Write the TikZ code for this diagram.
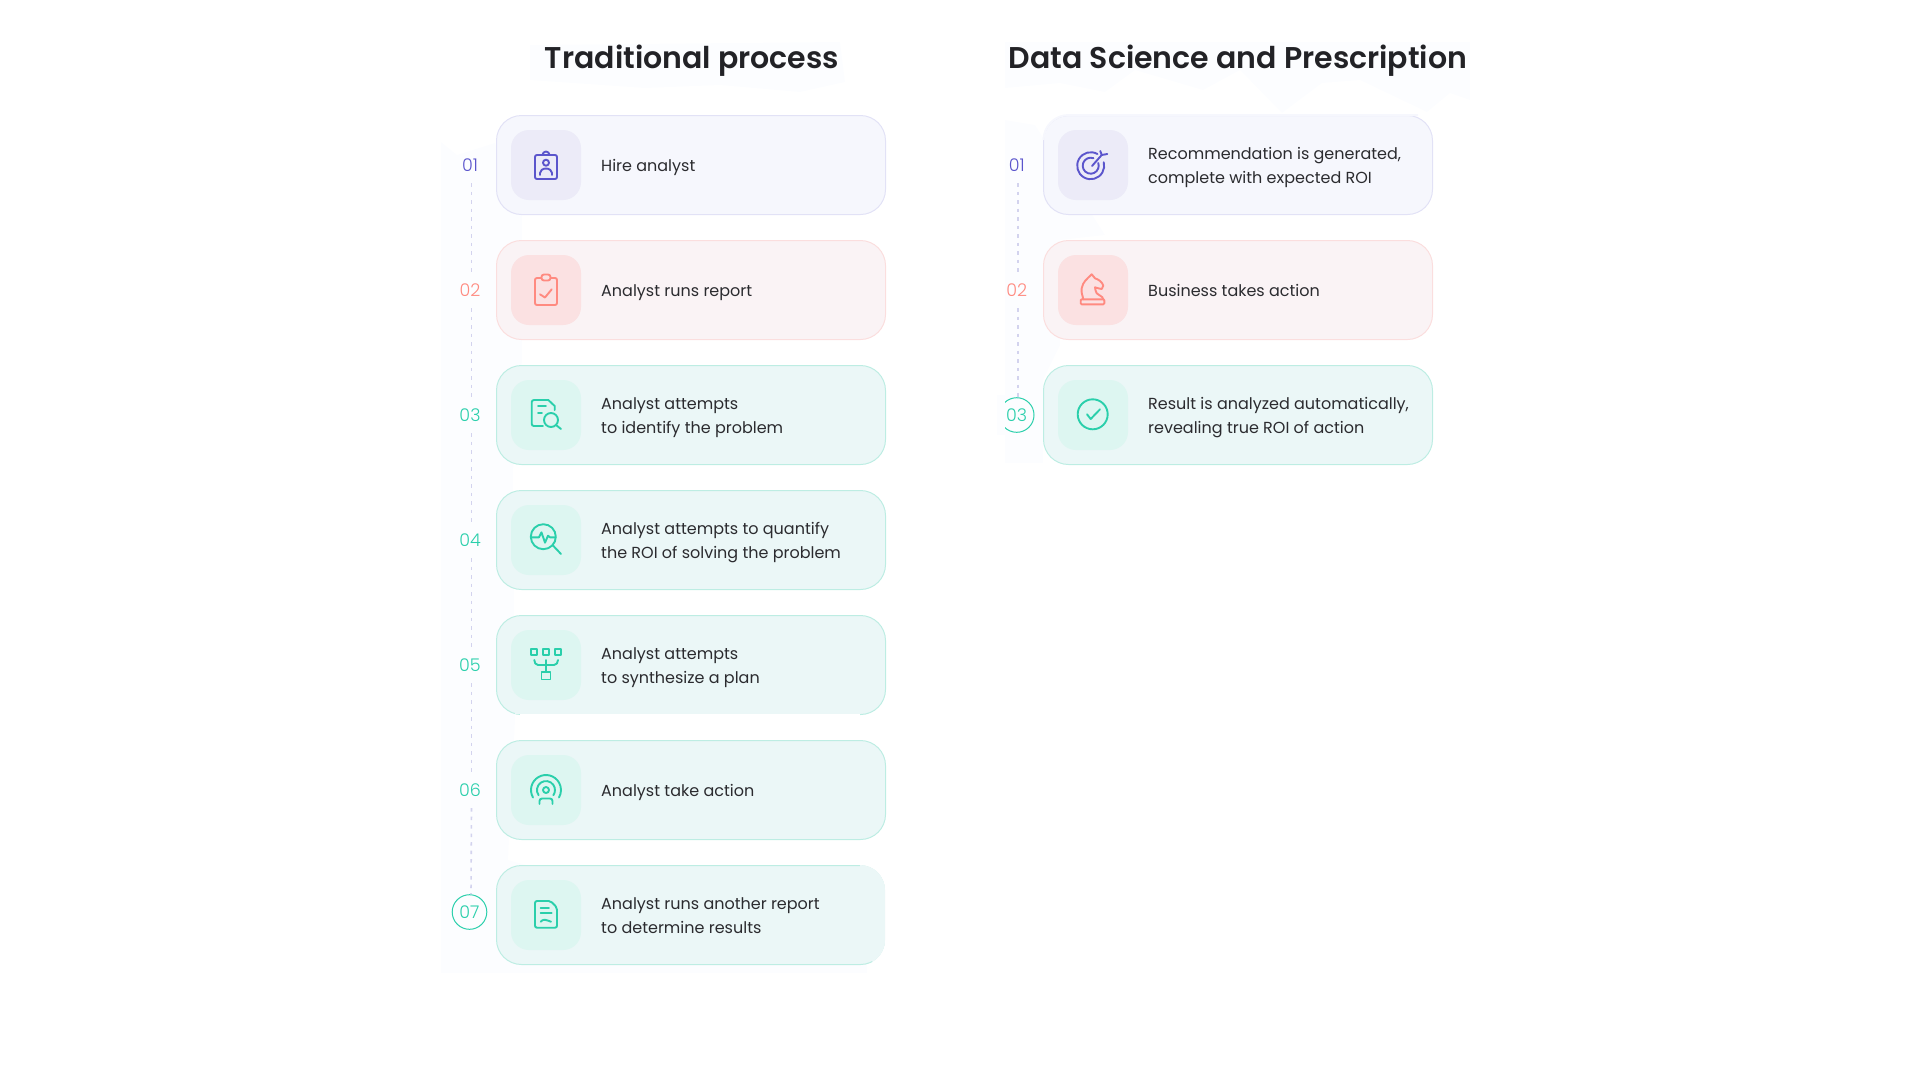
\documentclass[tikz,border=0pt]{standalone}
\usepackage{fontspec}
\setmainfont{Poppins}[BoldFont={Poppins SemiBold}]
\newfontfamily\numfont{Poppins Light}

\definecolor{inkdark}{HTML}{2B2B2F}
\definecolor{inktitle}{HTML}{222226}
\definecolor{palebg}{HTML}{FCFDFF}
\definecolor{dotline}{HTML}{D3D3EE}
\definecolor{violet}{HTML}{5B55CC}
\definecolor{violetcard}{HTML}{F6F7FD}
\definecolor{violetedge}{HTML}{E2E2F6}
\definecolor{violetbox}{HTML}{ECEBF8}
\definecolor{salmon}{HTML}{FF8A80}
\definecolor{salmoncard}{HTML}{FAF3F5}
\definecolor{salmonedge}{HTML}{FBDEDE}
\definecolor{salmonbox}{HTML}{FBE1E2}
\definecolor{mint}{HTML}{2ACFAB}
\definecolor{mintcard}{HTML}{EBF7F7}
\definecolor{mintedge}{HTML}{BDEDE3}
\definecolor{mintbox}{HTML}{DDF6F1}

\tikzset{
  cardbox/.style={draw, rectangle, rounded corners=25pt, line width=1pt, minimum width=389pt, minimum height=99pt, inner sep=0pt},
  iconbox/.style={rectangle, rounded corners=18pt, minimum size=70pt, inner sep=0pt},
  cardtext/.style={anchor=west, align=left, inner sep=0pt, yshift=-1.5pt, text=inkdark, font=\fontsize{16}{24}\selectfont, execute at begin node=\strut, execute at end node=\strut},
  pairtext/.style={cardtext, yshift=-2.4pt},
  headtext/.style={inner sep=0pt, text=inktitle, font=\fontsize{30}{36}\selectfont\bfseries},
  numtext/.style={minimum size=36pt, inner sep=0pt, font=\numfont\fontsize{17.5}{20}\selectfont},
  numring/.style={numtext, draw=mint, circle, minimum size=34.6pt, line width=1pt},
  dotlink/.style={dotline, line width=1.6pt, dash pattern=on 3.5pt off 5pt},
  glyph/.style={line width=1.9pt, line cap=round, line join=round},
  patchline/.style={line width=2pt},
}

\begin{document}
\begin{tikzpicture}[x=1pt, y=1pt]
  \useasboundingbox (0,0) rectangle (1920,-1080);

  % Faint panels behind everything
  \fill[palebg] (441,-142) -- (457,-155) -- (495,-143) -- (522,-215) -- (522,-360) -- (513,-470) -- (515,-720) -- (508,-860) -- (867,-960) -- (867,-973) -- (441,-973) -- cycle;
  \fill[palebg] (530,-45) -- (840,-42) -- (845,-82) -- (800,-92) -- (720,-85) -- (645,-88) -- (530,-80) -- cycle;
  \fill[palebg] (1005,-42) -- (1470,-42) -- (1470,-100) -- (1450,-93) -- (1427,-112) -- (1360,-80) -- (1322,-83) -- (1282,-113) -- (1240,-70) -- (1203,-90) -- (1135,-70) -- (1105,-92) -- (1060,-83) -- (1005,-88) -- cycle;
  \fill[palebg] (1005,-120) -- (1035,-125) -- (1105,-235) -- (1060,-240) -- (1060,-345) -- (1043,-380) -- (1043,-463) -- (1005,-463) -- cycle;

  % Titles
  \node[headtext] (headA) at (692,-60.7) {Traditional process};
  \node[headtext] (headB) at (1238,-60.7) {Data Science and Prescription};

  % Left column, cards
  \node[cardbox, draw=violetedge, fill=violetcard] (a1) at (691,-165) {};
  \node[cardbox, draw=salmonedge, fill=salmoncard] (a2) at (691,-290) {};
  \node[cardbox, draw=mintedge, fill=mintcard] (a3) at (691,-415) {};
  \node[cardbox, draw=mintedge, fill=mintcard] (a4) at (691,-540) {};
  \node[cardbox, draw=mintedge, fill=mintcard] (a5) at (691,-665) {};
  \node[cardbox, draw=mintedge, fill=mintcard] (a6) at (691,-790) {};
  \node[cardbox, draw=mintedge, fill=mintcard] (a7) at (691,-915) {};

  % Left column, worn edges
  \draw[patchline, white] (520,-715) -- (860,-715);
  \draw[patchline, mintcard] (515,-713) -- (860,-713);
  \draw[patchline, white] (860,-864) arc[start angle=90, end angle=0, radius=26] -- (886,-940) arc[start angle=0, end angle=-60, radius=26];
  \draw[patchline, mintcard] (860,-866) arc[start angle=90, end angle=0, radius=24] -- (884,-940) arc[start angle=0, end angle=-60, radius=24];

  \node[iconbox, fill=violetbox] (ai1) at (546,-165) {};
  \node[iconbox, fill=salmonbox] (ai2) at (546,-290) {};
  \node[iconbox, fill=mintbox] (ai3) at (546,-415) {};
  \node[iconbox, fill=mintbox] (ai4) at (546,-540) {};
  \node[iconbox, fill=mintbox] (ai5) at (546,-665) {};
  \node[iconbox, fill=mintbox] (ai6) at (546,-790) {};
  \node[iconbox, fill=mintbox] (ai7) at (546,-915) {};

  \node[cardtext] (at1) at (601,-165) {Hire analyst};
  \node[cardtext] (at2) at (601,-290) {Analyst runs report};
  \node[pairtext] (at3) at (601,-415) {Analyst attempts\\to identify the problem};
  \node[pairtext] (at4) at (601,-540) {Analyst attempts to quantify\\the ROI of solving the problem};
  \node[pairtext] (at5) at (601,-665) {Analyst attempts\\to synthesize a plan};
  \node[cardtext] (at6) at (601,-790) {Analyst take action};
  \node[pairtext] (at7) at (601,-915) {Analyst runs another report\\to determine results};

  % Left column, numbers
  \node[numtext, text=violet] (an1) at (470,-165) {01};
  \node[numtext, text=salmon] (an2) at (470,-290) {02};
  \node[numtext, text=mint] (an3) at (470,-415) {03};
  \node[numtext, text=mint] (an4) at (470,-540) {04};
  \node[numtext, text=mint] (an5) at (470,-665) {05};
  \node[numtext, text=mint] (an6) at (470,-790) {06};
  \node[numring, text=mint] (an7) at (469.5,-912) {07};

  \draw[dotlink] ([xshift=1.5pt]an1.south) -- ([xshift=1.5pt]an2.north);
  \draw[dotlink] ([xshift=1.5pt]an2.south) -- ([xshift=1.5pt]an3.north);
  \draw[dotlink] ([xshift=1.5pt]an3.south) -- ([xshift=1.5pt]an4.north);
  \draw[dotlink] ([xshift=1.5pt]an4.south) -- ([xshift=1.5pt]an5.north);
  \draw[dotlink] ([xshift=1.5pt]an5.south) -- ([xshift=1.5pt]an6.north);
  \draw[dotlink] ([xshift=1.5pt]an6.south) -- ([xshift=1.5pt]an7.north);

  % Left column, icons
  \begin{scope}[shift={(ai1.center)}, glyph, violet]
    \draw[rounded corners=2pt] (-11,10) rectangle (11,-14);
    \draw (-3.5,10) arc[start angle=180, end angle=0, radius=3.5];
    \draw (0,2.3) circle (3);
    \draw (-6,-10) -- (-6,-8) arc[start angle=180, end angle=0, x radius=6, y radius=4.5] -- (6,-10);
  \end{scope}

  \begin{scope}[shift={(ai2.center)}, glyph, salmon]
    \draw[rounded corners=2pt] (-11,12) rectangle (11,-15);
    \draw[rounded corners=2.5pt, fill=salmonbox] (-4.5,15.5) rectangle (4.5,9.5);
    \draw (-6,-4.3) -- (-1,-7.5) -- (5.7,0.7);
  \end{scope}

  \begin{scope}[shift={(ai3.center)}, glyph, mint]
    \draw (-3,-11) -- (-12,-11) to[out=180, in=-90] (-14.3,-9) -- (-14.3,13) to[out=90, in=180] (-12,15) -- (2.3,15) -- (8.7,9) -- (8.7,5);
    \draw (-8,9) -- (0,9);
    \draw (-8,2.3) -- (-4,2.3);
    \draw (5,-5) circle (7);
    \draw (10,-10) -- (15,-14);
  \end{scope}

  \begin{scope}[shift={(ai4.center)}, glyph, mint]
    \draw (-2.7,3.3) circle (12.5);
    \draw (6.5,-5) -- (15,-14);
    \draw (-14.5,2.7) -- (-7,2.7) -- (-4.5,7.7) -- (-1,-2.7) -- (2,4.3) -- (4,2.7) -- (9.5,2.7);
  \end{scope}

  \begin{scope}[shift={(ai5.center)}, glyph, mint]
    \draw (-14.7,15.7) rectangle (-8.7,9.7);
    \draw (-3,15.7) rectangle (3,9.7);
    \draw (9,15.7) rectangle (15,9.7);
    \draw (-11.7,5) to[out=-90, in=180] (-8,0) -- (8,0) to[out=0, in=-90] (12,5);
    \draw (0,5) -- (0,-6.7);
    \draw (-4.5,-6.7) rectangle (4.5,-14.5);
  \end{scope}

  \begin{scope}[shift={(ai6.center)}, glyph, mint]
    \draw (-13,-7.5) arc[start angle=210, end angle=-30, radius=15];
    \draw (-7.4,-5.2) arc[start angle=215, end angle=-35, radius=9];
    \draw (0,0) circle (3);
    \draw (-6.5,-14) -- (-6.5,-11) to[out=90, in=180] (-4,-8.5) -- (4,-8.5) to[out=0, in=90] (6.5,-11) -- (6.5,-14);
  \end{scope}

  \begin{scope}[shift={(ai7.center)}, glyph, mint]
    \draw[rounded corners=2pt] (-11,14) -- (4.7,14) -- (11,7.3) -- (11,-12.7) -- (-11,-12.7) -- cycle;
    \draw (-5.3,7.3) -- (3,7.3);
    \draw (-5.3,2.3) -- (5.7,2.3);
    \draw (-5.3,-6.7) to[out=40, in=180] (-1.5,-4.7) to[out=0, in=170] (5,-6.7);
  \end{scope}

  % Right column, cards
  \node[cardbox, draw=violetedge, fill=violetcard] (b1) at (1238,-165) {};
  \node[cardbox, draw=salmonedge, fill=salmoncard] (b2) at (1238,-290) {};
  \node[cardbox, draw=mintedge, fill=mintcard] (b3) at (1238,-415) {};

  % Right column, worn edge
  \draw[patchline, violetcard] (1043.5,-140) arc[start angle=180, end angle=90, radius=25] -- (1418,-115);

  \node[iconbox, fill=violetbox] (bi1) at (1093,-165) {};
  \node[iconbox, fill=salmonbox] (bi2) at (1093,-290) {};
  \node[iconbox, fill=mintbox] (bi3) at (1093,-415) {};

  \node[pairtext] (bt1) at (1148,-165) {Recommendation is generated,\\complete with expected ROI};
  \node[cardtext] (bt2) at (1148,-290) {Business takes action};
  \node[pairtext] (bt3) at (1148,-415) {Result is analyzed automatically,\\revealing true ROI of action};

  % Right column, numbers
  \node[numtext, text=violet] (bn1) at (1016.7,-165) {01};
  \node[numtext, text=salmon] (bn2) at (1016.7,-290) {02};
  \node[numring, text=mint] (bn3) at (1016.7,-415) {03};
  \fill[palebg] (997,-395) rectangle (1005,-435);

  \draw[dotlink] ([xshift=1.5pt]bn1.south) -- ([xshift=1.5pt]bn2.north);
  \draw[dotlink] ([xshift=1.5pt]bn2.south) -- ([xshift=1.5pt]bn3.north);

  % Right column, icons
  \begin{scope}[shift={(bi1.center)}, glyph, violet]
    \draw (-2.3,-0.7) ++(60:13.5) arc[start angle=60, end angle=375, radius=13.5];
    \draw (-2.3,-0.7) ++(70:8) arc[start angle=70, end angle=380, radius=8];
    \draw (-1,-1) -- (8.7,10);
    \draw (7.3,14) -- (8.7,10) -- (14.3,11);
  \end{scope}

  \begin{scope}[shift={(bi2.center)}, glyph, salmon]
    \draw[rounded corners=1pt] (-12.3,-9.3) rectangle (11.3,-14.3);
    \draw (-9.7,-9.3) to[out=100, in=-100] (-11.3,1.7) to[out=80, in=-135] (-1.3,15.7) -- (2,11.7) to[out=-20, in=110] (10.3,4.3) -- (8.7,1) to[out=180, in=-10] (2,2.7) to[out=-70, in=130] (3.7,-3.3) to[out=-50, in=100] (10.3,-9.3);
  \end{scope}

  \begin{scope}[shift={(bi3.center)}, glyph, mint]
    \draw (-0.3,0.7) circle (15);
    \draw (-6,0.7) -- (-2.3,-4) -- (7,5.7);
  \end{scope}
\end{tikzpicture}
\end{document}
